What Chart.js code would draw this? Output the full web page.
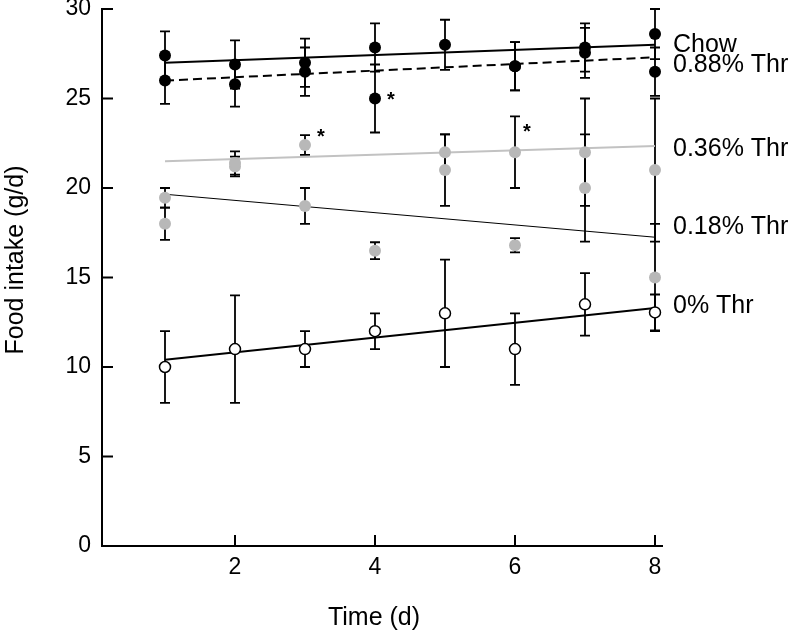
<!DOCTYPE html>
<html>
<head>
<meta charset="utf-8">
<script src="https://cdn.jsdelivr.net/npm/chart.js@4"></script>
<style>
  body { margin: 0; background: #fff; }
  canvas { display: block; }
</style>
</head>
<body>
<canvas id="intakeChart" width="796" height="630"></canvas>
<script>
const days = [1, 2, 3, 4, 5, 6, 7, 8];
const xTicks = [2, 4, 6, 8];
const yTicks = [0, 5, 10, 15, 20, 25, 30];

const chow = [27.4, 26.9, 27.0, 27.85, 28.0, 26.8, 27.85, 28.6];
const chowErr = [1.35, 1.35, 1.35, 1.35, 1.4, 1.35, 1.35, 1.4];
const thr088 = [26.0, 25.8, 26.5, 25.0, null, 26.8, 27.55, 26.5];
const thr088Err = [1.3, 1.25, 1.35, 1.9, null, 1.35, 1.4, 1.35];
const thr036 = [18.0, 21.4, 22.4, null, 22.0, 22.0, 22.0, 21.0];
const thr036Err = [0.9, 0.65, 0.55, null, 1.0, 2.0, 3.0, 4.0];
const thr018 = [19.45, 21.2, 19.0, 16.5, 21.0, 16.8, 20.0, 15.0];
const thr018Err = [0.55, 0.55, 1.0, 0.47, 2.0, 0.4, 3.0, 3.0];
const thr0 = [10.0, 11.0, 11.0, 12.0, 13.0, 11.0, 13.5, 13.05];
const thr0Err = [2.0, 3.0, 1.0, 1.0, 3.0, 2.0, 1.75, 1.0];

// regression lines, value at day 1 and day 8
const fitDays = [1, 8];
const chowFit = [27.0, 28.0];
const thr088Fit = [26.0, 27.3];
const thr036Fit = [21.5, 22.35];
const thr018Fit = [19.65, 17.25];
const thr0Fit = [10.4, 13.3];

const seriesNames = ['Chow', '0.88% Thr', '0.36% Thr', '0.18% Thr', '0% Thr'];

// points marked significant
const starDays = [4, 3, 6];
const starValues = [25.0, 22.4, 22.0];

const FONT = '"Liberation Sans", Arial, Helvetica, sans-serif';

function pts(xs, ys) {
  return xs.map((d, i) => ({ x: d, y: ys[i] }));
}

const groups = [
  { v: chow, e: chowErr },
  { v: thr088, e: thr088Err },
  { v: thr036, e: thr036Err },
  { v: thr018, e: thr018Err },
  { v: thr0, e: thr0Err }
];

const errorBars = {
  id: 'errorBars',
  beforeDatasetsDraw(chart) {
    const { ctx, scales: { x, y } } = chart;
    ctx.save();
    ctx.strokeStyle = '#000';
    ctx.lineWidth = 1.8;
    groups.forEach(g => {
      g.v.forEach((val, i) => {
        if (val == null) return;
        const px = x.getPixelForValue(days[i]);
        const top = y.getPixelForValue(val + g.e[i]);
        const bot = y.getPixelForValue(val - g.e[i]);
        ctx.beginPath();
        ctx.moveTo(px, top); ctx.lineTo(px, bot);
        ctx.moveTo(px - 5, top); ctx.lineTo(px + 5, top);
        ctx.moveTo(px - 5, bot); ctx.lineTo(px + 5, bot);
        ctx.stroke();
      });
    });
    ctx.restore();
  }
};

const decorations = {
  id: 'decorations',
  afterDraw(chart) {
    const { ctx, scales: { x, y }, chartArea } = chart;
    ctx.save();
    // inward tick marks
    ctx.strokeStyle = '#000';
    ctx.lineWidth = 2;
    ctx.beginPath();
    yTicks.forEach(t => {
      if (t === 0) return;
      const py = y.getPixelForValue(t);
      ctx.moveTo(chartArea.left, py);
      ctx.lineTo(chartArea.left + 11, py);
    });
    xTicks.forEach(t => {
      const px = x.getPixelForValue(t);
      ctx.moveTo(px, chartArea.bottom);
      ctx.lineTo(px, chartArea.bottom - 11);
    });
    ctx.stroke();

    ctx.fillStyle = '#000';

    // axis titles
    ctx.font = '25px ' + FONT;
    ctx.textAlign = 'center';
    ctx.textBaseline = 'alphabetic';
    ctx.fillText('Time (d)', 374, 625);
    ctx.save();
    ctx.translate(23, 260);
    ctx.rotate(-Math.PI / 2);
    ctx.fillText('Food intake (g/d)', 0, 0);
    ctx.restore();

    // series names beside the lines at day 8
    const nameLevels = [28.1, 27.0, 22.3, 17.9, 13.5];
    ctx.font = '25px ' + FONT;
    ctx.textAlign = 'left';
    ctx.textBaseline = 'middle';
    const lx = x.getPixelForValue(8) + 18;
    seriesNames.forEach((name, i) => {
      ctx.fillText(name, lx, y.getPixelForValue(nameLevels[i]) + 2);
    });

    // significance stars
    const offsets = [[12, 2], [12, -8], [8, -20]];
    ctx.font = 'bold 20px ' + FONT;
    starDays.forEach((d, i) => {
      ctx.fillText('*', x.getPixelForValue(d) + offsets[i][0],
        y.getPixelForValue(starValues[i]) + offsets[i][1]);
    });
    ctx.restore();
  }
};

const black = '#000000';
const grey = '#b8b8b8';

new Chart(document.getElementById('intakeChart'), {
  type: 'scatter',
  data: {
    datasets: [
      { label: 'Chow', data: pts(days, chow), pointRadius: 6, pointBackgroundColor: black, pointBorderColor: black, pointBorderWidth: 0 },
      { label: '0.88% Thr', data: pts(days, thr088), pointRadius: 6, pointBackgroundColor: black, pointBorderColor: black, pointBorderWidth: 0 },
      { label: '0.36% Thr', data: pts(days, thr036), pointRadius: 6, pointBackgroundColor: grey, pointBorderColor: grey, pointBorderWidth: 0 },
      { label: '0.18% Thr', data: pts(days, thr018), pointRadius: 6, pointBackgroundColor: grey, pointBorderColor: grey, pointBorderWidth: 0 },
      { label: '0% Thr', data: pts(days, thr0), pointRadius: 5.5, pointBackgroundColor: '#ffffff', pointBorderColor: black, pointBorderWidth: 1.5 },
      { label: 'Chow fit', data: pts(fitDays, chowFit), showLine: true, borderColor: black, borderWidth: 2, pointRadius: 0 },
      { label: '0.88% fit', data: pts(fitDays, thr088Fit), showLine: true, borderColor: black, borderWidth: 2, borderDash: [9, 5], pointRadius: 0 },
      { label: '0.36% fit', data: pts(fitDays, thr036Fit), showLine: true, borderColor: '#c2c2c2', borderWidth: 2, pointRadius: 0 },
      { label: '0.18% fit', data: pts(fitDays, thr018Fit), showLine: true, borderColor: black, borderWidth: 1, pointRadius: 0 },
      { label: '0% fit', data: pts(fitDays, thr0Fit), showLine: true, borderColor: black, borderWidth: 2, pointRadius: 0 }
    ]
  },
  options: {
    responsive: false,
    animation: false,
    events: [],
    layout: { padding: { left: 0, right: 134, top: 9, bottom: 0 } },
    plugins: { legend: { display: false }, tooltip: { enabled: false } },
    scales: {
      x: {
        type: 'linear',
        min: 0.1,
        max: 8.1,
        afterBuildTicks: s => { s.ticks = xTicks.map(v => ({ value: v })); },
        afterFit: s => { s.height = 84; s.paddingLeft = 0; s.paddingRight = 0; },
        grid: { display: false, drawTicks: false },
        border: { display: true, color: black, width: 2 },
        ticks: { color: black, font: { family: FONT, size: 23 }, padding: 8, maxRotation: 0 }
      },
      y: {
        min: 0,
        max: 30,
        afterBuildTicks: s => { s.ticks = yTicks.map(v => ({ value: v })); },
        afterFit: s => { s.width = 102; s.paddingTop = 0; s.paddingBottom = 0; },
        grid: { display: false, drawTicks: false },
        border: { display: true, color: black, width: 2 },
        ticks: { color: black, font: { family: FONT, size: 23 }, padding: 11 }
      }
    }
  },
  plugins: [errorBars, decorations]
});
</script>
</body>
</html>
